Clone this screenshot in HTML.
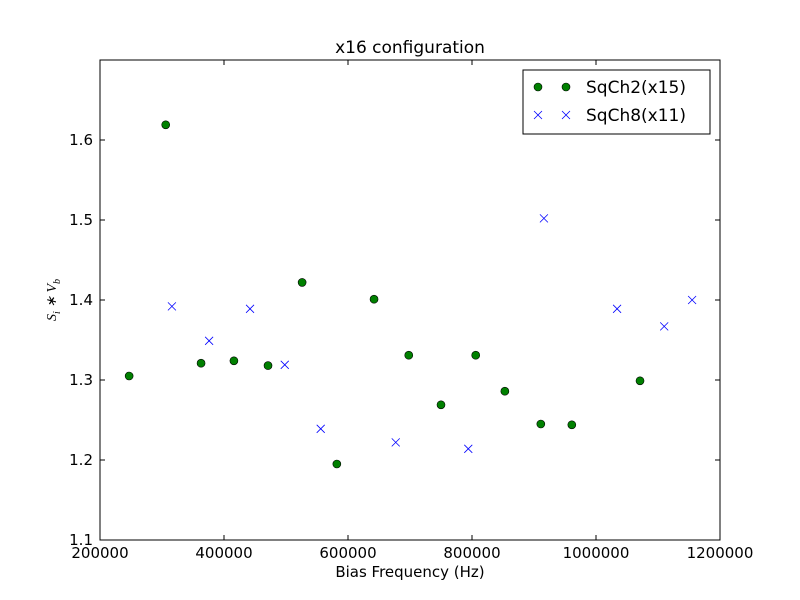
<!DOCTYPE html>
<html><head><meta charset="utf-8"><style>
body{margin:0;background:#fff;}
svg{display:block;font-family:"DejaVu Sans","Liberation Sans",sans-serif;}
</style></head><body>
<svg id="chart" width="800" height="600" viewBox="0 0 800 600" xmlns="http://www.w3.org/2000/svg">
<rect width="800" height="600" fill="#fff"/>
<text x="410" y="53" font-size="17" text-anchor="middle">x16 configuration</text>
<text x="410" y="577" font-size="15" text-anchor="middle">Bias Frequency (Hz)</text>
<text transform="translate(56,300) rotate(-90)" font-size="14" font-style="italic" font-family="Liberation Serif,serif" text-anchor="middle">S<tspan font-size="10" dy="4">i</tspan><tspan dy="-4"> ∗ V</tspan><tspan font-size="10" dy="4">b</tspan></text>
<g id="ticks"></g>
<g id="marks"></g>
<rect x="100" y="60" width="620" height="480" fill="none" stroke="#000" stroke-width="1"/>
<g>
<rect x="523" y="70" width="187" height="64" fill="#fff" stroke="#000"/>
<circle cx="538" cy="87" r="4" fill="#008000" stroke="#000" stroke-width="0.6"/>
<circle cx="566" cy="87" r="4" fill="#008000" stroke="#000" stroke-width="0.6"/>
<text x="586" y="93" font-size="17">SqCh2(x15)</text>
<path d="M534,111 l8,8 M542,111 l-8,8 M562,111 l8,8 M570,111 l-8,8" stroke="#0000ff" stroke-width="0.8"/>
<text x="586" y="121" font-size="17">SqCh8(x11)</text>
</g>
</svg>
<script>
const xTicks=[200000,400000,600000,800000,1000000,1200000];
const yTicks=[1.1,1.2,1.3,1.4,1.5,1.6];
const sq2X=[247000,306000,363000,416000,471000,526000,582000,642000,698000,750000,806000,853000,911000,961000,1071000];
const sq2Y=[1.305,1.619,1.321,1.324,1.318,1.422,1.195,1.401,1.331,1.269,1.331,1.286,1.245,1.244,1.299];
const sq8X=[316000,376000,442000,498000,556000,677000,794000,916000,1034000,1110000,1155000];
const sq8Y=[1.392,1.349,1.389,1.319,1.239,1.222,1.214,1.502,1.389,1.367,1.400];
const NS="http://www.w3.org/2000/svg";
function sx(v){return 100+(v-200000)/1000000*620;}
function sy(v){return 540-(v-1.1)/0.6*480;}
const tg=document.getElementById('ticks'),mg=document.getElementById('marks');
function mk(t,a,p){const e=document.createElementNS(NS,t);for(const k in a)e.setAttribute(k,a[k]);p.appendChild(e);return e;}
xTicks.forEach(v=>{const x=sx(v);
const l=mk('path',{d:`M${x},540v-5M${x},60v5`,stroke:'#000'},tg);


const t=mk('text',{x:x,y:558,'font-size':15,'text-anchor':'middle'},tg);t.textContent=v;

});
yTicks.forEach(v=>{const y=sy(v);
const l=mk('path',{d:`M100,${y}h5M720,${y}h-5`,stroke:'#000'},tg);


const t=mk('text',{x:93,y:y+5,'font-size':15,'text-anchor':'end'},tg);t.textContent=v.toFixed(1);

});
sq2X.forEach((v,i)=>{const c=mk('circle',{cx:sx(v),cy:sy(sq2Y[i]),r:4,fill:'#008000',stroke:'#000','stroke-width':0.6},mg);

});
sq8X.forEach((v,i)=>{const x=sx(v),y=sy(sq8Y[i]);
const p=mk('path',{d:`M${x-4},${y-4}l8,8M${x+4},${y-4}l-8,8`,stroke:'#0000ff','stroke-width':0.8},mg);

});
</script>
</body></html>
